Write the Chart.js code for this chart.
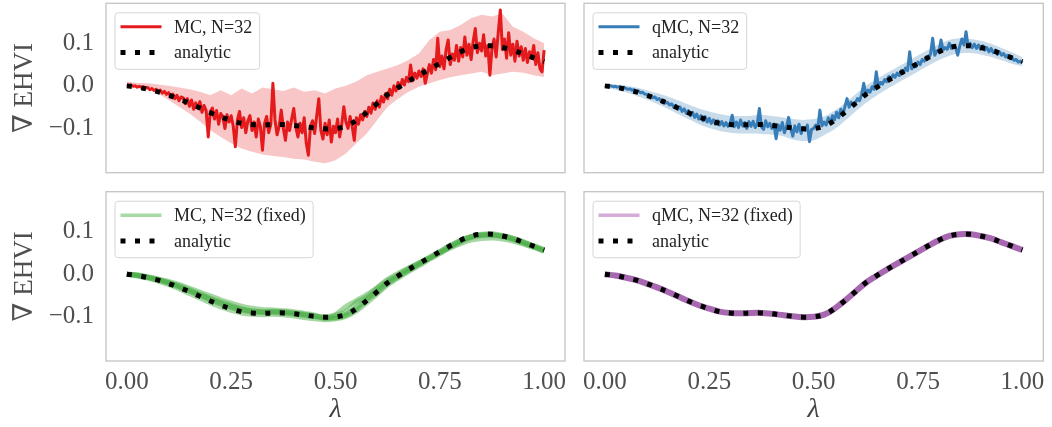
<!DOCTYPE html>
<html lang="en">
<head>
<meta charset="UTF-8">
<title>EHVI gradient</title>
<script src="https://cdn.jsdelivr.net/npm/chart.js"></script>
<style>
    html, body { margin: 0; padding: 0; background: #fff; overflow: hidden; }
    .wrap { position: relative; width: 1052px; height: 427px; }
    .wrap canvas { position: absolute; }
</style>
</head>
<body>
<div class="wrap">
    <canvas id="chartTL" width="580" height="182" style="left:0;top:0"></canvas>
    <canvas id="chartTR" width="472" height="182" style="left:580px;top:0"></canvas>
    <canvas id="chartBL" width="580" height="245" style="left:0;top:182px"></canvas>
    <canvas id="chartBR" width="472" height="245" style="left:580px;top:182px"></canvas>
</div>
<script>
// coarse lambda grid (analytic, bands, fixed-sample runs)
const lambdaGrid = [0.000, 0.025, 0.050, 0.075, 0.100, 0.125, 0.150, 0.175, 0.200, 0.225,
    0.250, 0.275, 0.300, 0.325, 0.350, 0.375, 0.400, 0.425, 0.450, 0.475,
    0.500, 0.525, 0.550, 0.575, 0.600, 0.625, 0.650, 0.675, 0.700, 0.725,
    0.750, 0.775, 0.800, 0.825, 0.850, 0.875, 0.900, 0.925, 0.950, 0.975, 1.000];

// fine lambda grid (noisy MC / qMC estimates)
const lambdaFine = [
    0.000, 0.005, 0.010, 0.015, 0.020, 0.025, 0.030, 0.035, 0.040, 0.045,
    0.050, 0.055, 0.060, 0.065, 0.070, 0.075, 0.080, 0.085, 0.090, 0.095,
    0.100, 0.105, 0.110, 0.115, 0.120, 0.125, 0.130, 0.135, 0.140, 0.145,
    0.150, 0.155, 0.160, 0.165, 0.170, 0.175, 0.180, 0.185, 0.190, 0.195,
    0.200, 0.205, 0.210, 0.215, 0.220, 0.225, 0.230, 0.235, 0.240, 0.245,
    0.250, 0.255, 0.260, 0.265, 0.270, 0.275, 0.280, 0.285, 0.290, 0.295,
    0.300, 0.305, 0.310, 0.315, 0.320, 0.325, 0.330, 0.335, 0.340, 0.345,
    0.350, 0.355, 0.360, 0.365, 0.370, 0.375, 0.380, 0.385, 0.390, 0.395,
    0.400, 0.405, 0.410, 0.415, 0.420, 0.425, 0.430, 0.435, 0.440, 0.445,
    0.450, 0.455, 0.460, 0.465, 0.470, 0.475, 0.480, 0.485, 0.490, 0.495,
    0.500, 0.505, 0.510, 0.515, 0.520, 0.525, 0.530, 0.535, 0.540, 0.545,
    0.550, 0.555, 0.560, 0.565, 0.570, 0.575, 0.580, 0.585, 0.590, 0.595,
    0.600, 0.605, 0.610, 0.615, 0.620, 0.625, 0.630, 0.635, 0.640, 0.645,
    0.650, 0.655, 0.660, 0.665, 0.670, 0.675, 0.680, 0.685, 0.690, 0.695,
    0.700, 0.705, 0.710, 0.715, 0.720, 0.725, 0.730, 0.735, 0.740, 0.745,
    0.750, 0.755, 0.760, 0.765, 0.770, 0.775, 0.780, 0.785, 0.790, 0.795,
    0.800, 0.805, 0.810, 0.815, 0.820, 0.825, 0.830, 0.835, 0.840, 0.845,
    0.850, 0.855, 0.860, 0.865, 0.870, 0.875, 0.880, 0.885, 0.890, 0.895,
    0.900, 0.905, 0.910, 0.915, 0.920, 0.925, 0.930, 0.935, 0.940, 0.945,
    0.950, 0.955, 0.960, 0.965, 0.970, 0.975, 0.980, 0.985, 0.990, 0.995,
    1.000];

const analytic = [0.000, -0.003, -0.008, -0.014, -0.022, -0.031, -0.041, -0.052, -0.063, -0.073,
    -0.081, -0.088, -0.091, -0.092, -0.091, -0.091, -0.093, -0.096, -0.099, -0.101,
    -0.100, -0.095, -0.081, -0.062, -0.041, -0.020, -0.004, 0.011, 0.025, 0.039,
    0.053, 0.067, 0.080, 0.090, 0.094, 0.094, 0.090, 0.084, 0.075, 0.066, 0.057];

const mcLine = [
    0.003, 0.001, 0.002, -0.001, 0.000, -0.003, -0.001, -0.004, -0.002, -0.005,
    -0.004, -0.009, -0.006, -0.011, -0.008, -0.014, -0.010, -0.017, -0.013, -0.020,
    -0.016, -0.026, -0.019, -0.030, -0.022, -0.035, -0.026, -0.028, -0.042, -0.030,
    -0.048, -0.033, -0.055, -0.040, -0.052, -0.037, -0.062, -0.046, -0.058, -0.120,
    -0.060, -0.052, -0.078, -0.058, -0.090, -0.065, -0.072, -0.100, -0.068, -0.085,
    -0.070, -0.095, -0.143, -0.080, -0.060, -0.098, -0.075, -0.110, -0.082, -0.070,
    -0.105, -0.085, -0.120, -0.078, -0.095, -0.151, -0.088, -0.072, -0.110, -0.090,
    0.006, -0.080, -0.115, -0.095, -0.057, -0.100, -0.128, -0.085, -0.105, -0.078,
    -0.053, -0.098, -0.120, -0.088, -0.110, -0.075, -0.135, -0.163, -0.095, -0.082,
    -0.112, -0.070, -0.030, -0.105, -0.125, -0.088, -0.115, -0.080, -0.132, -0.095,
    -0.110, -0.078, -0.120, -0.090, -0.049, -0.085, -0.100, -0.072, -0.095, -0.128,
    -0.075, -0.090, -0.068, -0.080, -0.060, -0.072, -0.050, -0.064, -0.040, -0.055,
    -0.035, -0.050, -0.025, -0.038, -0.018, -0.030, -0.008, -0.022, 0.000, -0.012,
    0.008, -0.005, 0.015, 0.002, 0.020, 0.010, 0.049, 0.012, 0.030, 0.018,
    0.035, 0.022, 0.040, 0.006, 0.028, 0.050, 0.030, 0.062, 0.038, 0.112,
    0.045, 0.070, 0.040, 0.085, 0.108, 0.050, 0.075, 0.060, 0.095, 0.058,
    0.090, 0.068, 0.115, 0.072, 0.098, 0.062, 0.105, 0.135, 0.078, 0.100,
    0.082, 0.120, 0.070, 0.095, 0.025, 0.088, 0.110, 0.068, 0.125, 0.178,
    0.085, 0.110, 0.065, 0.125, 0.072, 0.098, 0.058, 0.105, 0.070, 0.092,
    0.060, 0.088, 0.055, 0.080, 0.065, 0.095, 0.050, 0.078, 0.040, 0.033,
    0.084];
const mcUpper = [0.010, 0.007, 0.006, 0.003, 0.000, -0.004, -0.008, -0.014, -0.022, -0.010,
    -0.022, -0.006, -0.018, -0.004, -0.008, -0.012, -0.004, -0.014, -0.010, -0.018,
    -0.006, 0.000, 0.010, 0.025, 0.033, 0.041, 0.049, 0.061, 0.076, 0.108,
    0.127, 0.131, 0.143, 0.159, 0.167, 0.163, 0.170, 0.139, 0.127, 0.112, 0.100];
const mcLower = [0.002, 0.000, -0.006, -0.018, -0.033, -0.049, -0.065, -0.084, -0.104, -0.120,
    -0.135, -0.147, -0.155, -0.161, -0.165, -0.167, -0.171, -0.173, -0.178, -0.182,
    -0.175, -0.159, -0.135, -0.112, -0.080, -0.049, -0.030, -0.014, -0.002, 0.006,
    0.014, 0.020, 0.025, 0.029, 0.033, 0.025, 0.029, 0.033, 0.031, 0.025, 0.021];

const qmcLine = [
    0.001, 0.000, -0.001, 0.000, -0.002, -0.001, -0.003, -0.002, -0.004, -0.003,
    -0.006, -0.008, -0.007, -0.010, -0.009, -0.013, -0.012, -0.016, -0.015, -0.019,
    -0.020, -0.024, -0.023, -0.028, -0.026, -0.032, -0.030, -0.036, -0.034, -0.040,
    -0.039, -0.045, -0.042, -0.050, -0.046, -0.055, -0.050, -0.060, -0.054, -0.064,
    -0.058, -0.070, -0.062, -0.074, -0.066, -0.078, -0.070, -0.082, -0.072, -0.085,
    -0.076, -0.088, -0.080, -0.090, -0.082, -0.092, -0.084, -0.094, -0.086, -0.095,
    -0.088, -0.069, -0.096, -0.085, -0.098, -0.080, -0.094, -0.086, -0.100, -0.084,
    -0.095, -0.083, -0.098, -0.088, -0.053, -0.096, -0.102, -0.082, -0.096, -0.088,
    -0.100, -0.090, -0.124, -0.092, -0.104, -0.086, -0.110, -0.096, -0.074, -0.100,
    -0.118, -0.094, -0.108, -0.090, -0.112, -0.098, -0.104, -0.092, -0.131, -0.102,
    -0.100, -0.092, -0.098, -0.057, -0.094, -0.085, -0.092, -0.075, -0.088, -0.070,
    -0.080, -0.062, -0.075, -0.055, -0.068, -0.048, -0.030, -0.050, -0.038, -0.045,
    -0.040, -0.030, -0.035, -0.020, 0.006, -0.022, -0.010, -0.015, -0.002, -0.008,
    0.033, -0.002, 0.008, 0.004, 0.015, 0.010, 0.022, 0.016, 0.026, 0.020,
    0.030, 0.024, 0.036, 0.030, 0.042, 0.036, 0.080, 0.040, 0.050, 0.045,
    0.056, 0.050, 0.062, 0.058, 0.068, 0.064, 0.075, 0.112, 0.072, 0.082,
    0.080, 0.108, 0.084, 0.090, 0.086, 0.100, 0.088, 0.095, 0.090, 0.072,
    0.094, 0.110, 0.096, 0.127, 0.092, 0.100, 0.090, 0.098, 0.088, 0.096,
    0.086, 0.094, 0.084, 0.090, 0.080, 0.088, 0.078, 0.084, 0.074, 0.080,
    0.072, 0.076, 0.068, 0.072, 0.064, 0.066, 0.060, 0.062, 0.056, 0.058,
    0.054];
const qmcUpper = [0.004, 0.003, 0.000, -0.004, -0.010, -0.017, -0.025, -0.034, -0.044, -0.053,
    -0.060, -0.066, -0.070, -0.071, -0.070, -0.068, -0.071, -0.074, -0.078, -0.080,
    -0.078, -0.072, -0.058, -0.040, -0.020, 0.000, 0.015, 0.030, 0.044, 0.058,
    0.072, 0.085, 0.098, 0.108, 0.112, 0.110, 0.106, 0.099, 0.089, 0.079, 0.067];
const qmcLower = [-0.004, -0.009, -0.015, -0.023, -0.032, -0.042, -0.054, -0.066, -0.078, -0.090,
    -0.099, -0.106, -0.110, -0.112, -0.112, -0.113, -0.115, -0.118, -0.126, -0.130,
    -0.128, -0.116, -0.102, -0.082, -0.060, -0.040, -0.023, -0.008, 0.006, 0.020,
    0.034, 0.048, 0.061, 0.071, 0.076, 0.077, 0.074, 0.068, 0.060, 0.052, 0.046];

// MC with fixed base samples: a few independent runs
const mcFixedRun1 = [0.000, -0.003, -0.008, -0.014, -0.021, -0.030, -0.040, -0.050, -0.060, -0.070,
    -0.078, -0.085, -0.089, -0.090, -0.090, -0.091, -0.094, -0.097, -0.100, -0.102,
    -0.101, -0.094, -0.078, -0.058, -0.038, -0.019, -0.004, 0.010, 0.024, 0.038,
    0.052, 0.066, 0.079, 0.089, 0.093, 0.093, 0.089, 0.083, 0.074, 0.065, 0.056];
const mcFixedRun2 = [0.001, -0.002, -0.006, -0.011, -0.017, -0.024, -0.033, -0.042, -0.051, -0.060,
    -0.068, -0.075, -0.080, -0.083, -0.084, -0.086, -0.088, -0.092, -0.096, -0.104,
    -0.095, -0.076, -0.062, -0.048, -0.032, -0.015, -0.001, 0.014, 0.027, 0.040,
    0.054, 0.068, 0.080, 0.088, 0.092, 0.092, 0.088, 0.082, 0.073, 0.064, 0.055];
const mcFixedRun3 = [0.000, -0.004, -0.009, -0.016, -0.024, -0.034, -0.045, -0.056, -0.067, -0.077,
    -0.085, -0.091, -0.094, -0.095, -0.094, -0.095, -0.098, -0.102, -0.105, -0.107,
    -0.105, -0.099, -0.086, -0.067, -0.046, -0.025, -0.009, 0.006, 0.020, 0.035,
    0.049, 0.063, 0.076, 0.086, 0.091, 0.092, 0.090, 0.084, 0.076, 0.067, 0.058];
const mcFixedRun4 = [0.000, -0.003, -0.007, -0.013, -0.020, -0.029, -0.039, -0.049, -0.059, -0.068,
    -0.077, -0.083, -0.087, -0.089, -0.088, -0.089, -0.092, -0.095, -0.099, -0.100,
    -0.096, -0.088, -0.066, -0.053, -0.032, -0.012, 0.002, 0.014, 0.026, 0.038,
    0.050, 0.062, 0.072, 0.080, 0.084, 0.085, 0.083, 0.078, 0.071, 0.063, 0.054];
const mcFixedRun5 = [0.000, -0.002, -0.007, -0.012, -0.019, -0.027, -0.036, -0.046, -0.056, -0.065,
    -0.073, -0.081, -0.086, -0.088, -0.087, -0.088, -0.091, -0.094, -0.098, -0.103,
    -0.103, -0.097, -0.083, -0.060, -0.043, -0.022, -0.006, 0.009, 0.023, 0.037,
    0.051, 0.065, 0.078, 0.088, 0.094, 0.095, 0.091, 0.085, 0.076, 0.066, 0.057];

const qmcFixed = [0.000, -0.003, -0.008, -0.014, -0.022, -0.031, -0.041, -0.052, -0.063, -0.073,
    -0.081, -0.088, -0.091, -0.092, -0.091, -0.091, -0.093, -0.096, -0.099, -0.101,
    -0.100, -0.095, -0.081, -0.062, -0.041, -0.020, -0.004, 0.011, 0.025, 0.039,
    0.053, 0.067, 0.080, 0.090, 0.094, 0.094, 0.090, 0.084, 0.075, 0.066, 0.057];

const xTicks = [0, 0.25, 0.5, 0.75, 1.0];
const xTickLabels = ['0.00', '0.25', '0.50', '0.75', '1.00'];
const yTicks = [-0.1, 0.0, 0.1];
const yTickLabels = ['\u22120.1', '0.0', '0.1'];

const SERIF = '"Liberation Serif", "DejaVu Serif", serif';
const TICK_COLOR = '#4f4f4f';

function pts(xs, ys) {
    return xs.map((x, i) => ({ x: x, y: ys[i] }));
}

// grey frame round the plotting area
const framePlugin = {
    id: 'frame',
    beforeDatasetsDraw(chart) {
        const a = chart.chartArea;
        const ctx = chart.ctx;
        ctx.save();
        ctx.strokeStyle = '#c4c4c4';
        ctx.lineWidth = 1.3;
        ctx.strokeRect(a.left, a.top, a.right - a.left, a.bottom - a.top);
        ctx.restore();
    }
};

// legend drawn inside the upper left corner
const boxLegend = {
    id: 'boxLegend',
    afterDatasetsDraw(chart, args, opts) {
        const items = opts.items;
        if (!items) return;
        const ctx = chart.ctx;
        const a = chart.chartArea;
        ctx.save();
        ctx.font = '18px ' + SERIF;
        const textW = Math.max(...items.map(it => ctx.measureText(it.label).width));
        const x = a.left + 9, y = a.top + 9.5;
        const w = 5.5 + 41 + 12.5 + textW + 7.5, h = 56.5, r = 3;
        ctx.beginPath();
        ctx.moveTo(x + r, y);
        ctx.arcTo(x + w, y, x + w, y + h, r);
        ctx.arcTo(x + w, y + h, x, y + h, r);
        ctx.arcTo(x, y + h, x, y, r);
        ctx.arcTo(x, y, x + w, y, r);
        ctx.closePath();
        ctx.fillStyle = 'rgba(255,255,255,0.85)';
        ctx.fill();
        ctx.strokeStyle = '#d6d6d6';
        ctx.lineWidth = 1;
        ctx.stroke();
        items.forEach((it, i) => {
            const cy = y + 14 + i * 25.7;
            ctx.beginPath();
            ctx.setLineDash(it.dash || []);
            ctx.lineCap = 'butt';
            ctx.lineWidth = it.width;
            ctx.strokeStyle = it.color;
            ctx.moveTo(x + 5.5, cy);
            ctx.lineTo(x + 46.5, cy);
            ctx.stroke();
            ctx.setLineDash([]);
            ctx.fillStyle = '#222';
            ctx.textBaseline = 'middle';
            ctx.textAlign = 'left';
            ctx.fillText(it.label, x + 59, cy + 1);
        });
        ctx.restore();
    }
};

function analyticSet() {
    return {
        data: pts(lambdaGrid, analytic),
        borderColor: '#000',
        borderWidth: 5,
        borderDash: [5, 9.5],
        pointRadius: 0,
        tension: 0.35,
        order: 0
    };
}

function makeChart(id, datasets, cfg) {
    const yScale = {
        min: -0.204,
        max: 0.194,
        display: cfg.leftCol,
        grid: { display: false, drawTicks: false },
        border: { display: false },
        afterBuildTicks: s => { s.ticks = yTicks.map(v => ({ value: v })); },
        afterFit: s => {
            s.width = cfg.leftCol ? 106 : 0;
            s.paddingTop = 0; s.paddingBottom = 0;
            s.paddingLeft = 0; s.paddingRight = 0;
        },
        ticks: {
            padding: 12,
            color: TICK_COLOR,
            font: { family: SERIF, size: 25 },
            callback: (v, i) => yTickLabels[i]
        },
        title: {
            display: true,
            text: '\u2207 EHVI',
            color: TICK_COLOR,
            font: { family: SERIF, size: 27 },
            padding: { top: 9, bottom: 0 }
        }
    };
    const xScale = {
        type: 'linear',
        min: -0.05,
        max: 1.05,
        display: cfg.bottomRow,
        grid: { display: false, drawTicks: false },
        border: { display: false },
        afterBuildTicks: s => { s.ticks = xTicks.map(v => ({ value: v })); },
        afterFit: s => {
            s.height = cfg.bottomRow ? 66 : 0;
            s.paddingTop = 0; s.paddingBottom = 0;
            s.paddingLeft = 0; s.paddingRight = 0;
        },
        ticks: {
            padding: 6,
            maxRotation: 0,
            color: TICK_COLOR,
            font: { family: SERIF, size: 25 },
            callback: (v, i) => xTickLabels[i]
        },
        title: {
            display: true,
            text: '\u03bb',
            color: '#444',
            font: { family: SERIF, size: 28, style: 'italic' },
            padding: { top: 0, bottom: 1 }
        }
    };
    return new Chart(document.getElementById(id), {
        type: 'line',
        data: { datasets: datasets },
        options: {
            responsive: false,
            animation: false,
            events: [],
            layout: { padding: cfg.padding },
            scales: { x: xScale, y: yScale },
            plugins: {
                legend: { display: false },
                tooltip: { enabled: false },
                boxLegend: { items: cfg.legend }
            }
        },
        plugins: [framePlugin, boxLegend]
    });
}

// top left: plain MC
makeChart('chartTL', [
    analyticSet(),
    { data: pts(lambdaFine, mcLine), borderColor: '#e41a1c', borderWidth: 3, borderJoinStyle: 'round',
      pointRadius: 0, order: 1 },
    { data: pts(lambdaGrid, mcLower), borderWidth: 0, pointRadius: 0, order: 3 },
    { data: pts(lambdaGrid, mcUpper), borderWidth: 0, pointRadius: 0, order: 2,
      fill: '-1', backgroundColor: 'rgba(228,26,28,0.25)' }
], {
    leftCol: true, bottomRow: false,
    padding: { left: 0, top: 3.3, right: 15, bottom: 9.3 },
    legend: [
        { label: 'MC, N=32', color: '#e41a1c', width: 3 },
        { label: 'analytic', color: '#000', width: 5, dash: [5, 9.5] }
    ]
});

// top right: qMC
makeChart('chartTR', [
    analyticSet(),
    { data: pts(lambdaFine, qmcLine), borderColor: '#377eb8', borderWidth: 3, borderJoinStyle: 'round',
      pointRadius: 0, order: 1 },
    { data: pts(lambdaGrid, qmcLower), borderWidth: 0, pointRadius: 0, order: 3, tension: 0.3 },
    { data: pts(lambdaGrid, qmcUpper), borderWidth: 0, pointRadius: 0, order: 2, tension: 0.3,
      fill: '-1', backgroundColor: 'rgba(55,126,184,0.28)' }
], {
    leftCol: false, bottomRow: false,
    padding: { left: 4, top: 3.3, right: 8.7, bottom: 9.3 },
    legend: [
        { label: 'qMC, N=32', color: '#377eb8', width: 3 },
        { label: 'analytic', color: '#000', width: 5, dash: [5, 9.5] }
    ]
});

// bottom left: MC with fixed base samples
const greenRuns = [mcFixedRun1, mcFixedRun2, mcFixedRun3, mcFixedRun4, mcFixedRun5];
makeChart('chartBL', [
    analyticSet()
].concat(greenRuns.map((run, k) => ({
    data: pts(lambdaGrid, run),
    borderColor: 'rgba(77,175,74,0.5)',
    borderWidth: 5,
    pointRadius: 0,
    tension: 0.3,
    order: 1 + k
}))), {
    leftCol: true, bottomRow: true,
    padding: { left: 0, top: 9.7, right: 15, bottom: 0 },
    legend: [
        { label: 'MC, N=32 (fixed)', color: '#a6d9a4', width: 3.5 },
        { label: 'analytic', color: '#000', width: 5, dash: [5, 9.5] }
    ]
});

// bottom right: qMC with fixed base samples
makeChart('chartBR', [
    analyticSet(),
    { data: pts(lambdaGrid, qmcFixed), borderColor: 'rgba(152,78,163,0.85)', borderWidth: 6,
      pointRadius: 0, tension: 0.35, order: 1 }
], {
    leftCol: false, bottomRow: true,
    padding: { left: 4, top: 9.7, right: 8.7, bottom: 0 },
    legend: [
        { label: 'qMC, N=32 (fixed)', color: '#d4abd9', width: 3.5 },
        { label: 'analytic', color: '#000', width: 5, dash: [5, 9.5] }
    ]
});
</script>
</body>
</html>
